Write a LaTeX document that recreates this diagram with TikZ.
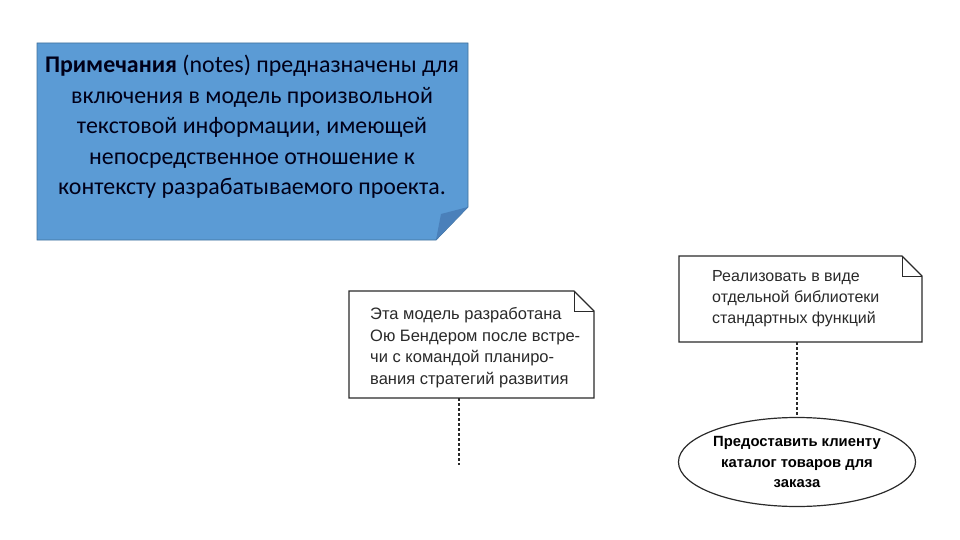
\documentclass[tikz,border=0pt]{standalone}
\usepackage{fontspec}
\setmainfont{Carlito}
\newfontfamily\arialf{Liberation Sans}
\usetikzlibrary{shapes.geometric}
\definecolor{noteblue}{HTML}{5B9BD5}
\definecolor{noteedge}{HTML}{41719C}
\definecolor{folddark}{HTML}{4A80BA}
\definecolor{inkgray}{HTML}{2A2A2A}
\tikzset{
  umlnote/.style={draw=inkgray, line width=1.3pt, fill=white, line join=miter},
  notetext/.style={anchor=north west, align=left, inner sep=0pt, text=inkgray, font=\arialf\fontsize{16.5}{21.7}\selectfont},
  anchorbox/.style={anchor=north west, inner sep=0pt, outer sep=0pt},
  notelink/.style={draw=inkgray, line width=1.1pt, dash pattern=on 3pt off 2pt},
}
\begin{document}
\begin{tikzpicture}[x=1pt,y=-1pt]
\useasboundingbox (0,0) rectangle (960,540);
% ---- blue note ----
\node (bn) [anchorbox, minimum width=431pt, minimum height=197pt] at (37,43) {};
\filldraw[fill=noteblue, draw=noteedge, line width=0.8pt]
  (bn.north west) -- (bn.north east) -- ([yshift=33pt]bn.south east) -- ([xshift=-32pt]bn.south east) -- (bn.south west) -- cycle;
\fill[folddark] ([yshift=33pt]bn.south east) -- ([xshift=-32pt]bn.south east) -- ([xshift=-27pt,yshift=26pt]bn.south east) -- cycle;
\node (bt) [align=center, inner sep=0pt, text=black!90!blue, font=\fontsize{23.9}{30.5}\selectfont] at (252,127)
  {\textbf{Примечания} (notes) предназначены для\\
   включения в модель произвольной\\
   текстовой информации, имеющей\\
   непосредственное отношение к\\
   контексту разрабатываемого проекта.};
% ---- note 1 ----
\node (n1) [anchorbox, minimum width=245pt, minimum height=107pt] at (349,291) {};
\draw[umlnote] (n1.north west) -- ([xshift=-20pt]n1.north east) -- ([yshift=-20pt]n1.north east) -- (n1.south east) -- (n1.south west) -- cycle;
\draw[draw=inkgray, line width=1pt] ([xshift=-20pt]n1.north east) -- ([xshift=-20pt,yshift=-20pt]n1.north east) -- ([yshift=-20pt]n1.north east);
\node (t1) [notetext] at (370,307)
  {Эта модель разработана\\
   Ою Бендером после встре-\\
   чи с командой планиро-\\
   вания стратегий развития};
\coordinate (c1) at (459,465);
\draw[notelink] (c1 |- n1.south) -- (c1);
% ---- note 2 ----
\node (n2) [anchorbox, minimum width=243pt, minimum height=86pt] at (679,256) {};
\draw[umlnote] (n2.north west) -- ([xshift=-20pt]n2.north east) -- ([yshift=-20pt]n2.north east) -- (n2.south east) -- (n2.south west) -- cycle;
\draw[draw=inkgray, line width=1pt] ([xshift=-20pt]n2.north east) -- ([xshift=-20pt,yshift=-20pt]n2.north east) -- ([yshift=-20pt]n2.north east);
\node (t2) [notetext, font=\arialf\fontsize{16}{21}\selectfont] at (712,270)
  {Реализовать в виде\\
   отдельной библиотеки\\
   стандартных функций};
% ---- use case ----
\node (uc) [ellipse, draw=inkgray, line width=1.2pt, fill=white, minimum width=229pt, minimum height=89pt, inner sep=0pt,
  align=center, text=black, font=\arialf\bfseries\fontsize{14.8}{20.5}\selectfont] at (797,462)
  {Предоставить клиенту\\каталог товаров для\\заказа};
\draw[notelink] (uc.north |- n2.south) -- (uc.north);
\end{tikzpicture}
\end{document}
